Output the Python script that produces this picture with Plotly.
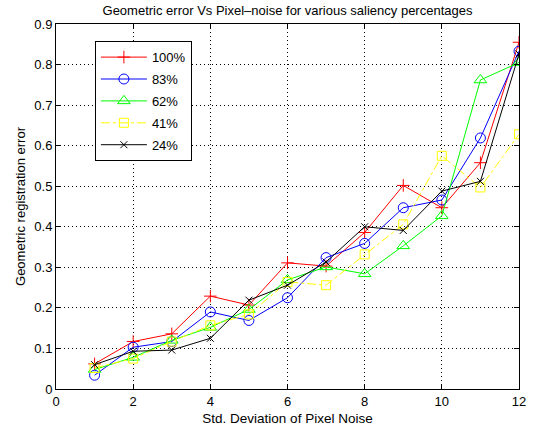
import plotly.graph_objects as go

# Std. deviation of pixel noise
noise = [1, 2, 3, 4, 5, 6, 7, 8, 9, 10, 11, 12]

# Geometric registration error for each saliency percentage
err_100 = [0.062, 0.117, 0.136, 0.229, 0.207, 0.311, 0.303, 0.386, 0.502, 0.447, 0.558, 0.855]
err_83 = [0.034, 0.103, 0.117, 0.190, 0.169, 0.225, 0.324, 0.359, 0.447, 0.466, 0.619, 0.833]
err_62 = [0.048, 0.078, 0.120, 0.152, 0.196, 0.269, 0.301, 0.284, 0.353, 0.427, 0.762, 0.805]
err_41 = [0.052, 0.075, 0.117, 0.157, 0.184, 0.264, 0.256, 0.332, 0.406, 0.575, 0.497, 0.628]
err_24 = [0.060, 0.093, 0.096, 0.125, 0.219, 0.256, 0.313, 0.400, 0.391, 0.488, 0.512, 0.826]

x_ticks = [0, 2, 4, 6, 8, 10, 12]
y_ticks = [0, 0.1, 0.2, 0.3, 0.4, 0.5, 0.6, 0.7, 0.8, 0.9]
y_tick_text = ["0", "0.1", "0.2", "0.3", "0.4", "0.5", "0.6", "0.7", "0.8", "0.9"]

series = [
    ("100%", err_100, "#ff0000", "cross-thin-open", "solid", 9),
    ("83%", err_83, "#0000ff", "circle-open", "solid", 10),
    ("62%", err_62, "#00ff00", "triangle-up-open", "solid", 11),
    ("41%", err_41, "#ffff00", "square-open", "dashdot", 9),
    ("24%", err_24, "#000000", "x-thin-open", "solid", 7),
]

fig = go.Figure()
for name, vals, color, symbol, dash, size in series:
    fig.add_trace(go.Scatter(
        x=noise, y=vals, name=name, mode="lines+markers", legendgroup=name,
        line=dict(color=color, width=1, dash=dash),
        marker=dict(symbol=symbol, size=size, color=color,
                    line=dict(color=color, width=1)),
    ))

font_family = "Liberation Sans, Arial, Helvetica, sans-serif"
axis_common = dict(
    showline=True, linecolor="black", linewidth=1, mirror="ticks",
    ticks="inside", ticklen=5, tickcolor="black", automargin=False,
    showgrid=True, gridcolor="black", griddash="1px,3px", gridwidth=1,
    zeroline=False, tickfont=dict(size=13, color="black", family=font_family),
)

fig.update_layout(
    width=535, height=428,
    margin=dict(l=56, r=16, t=24, b=39),
    paper_bgcolor="white", plot_bgcolor="white",
    font=dict(family=font_family, color="black", size=13),
    title=dict(text="Geometric error Vs Pixel\u2013noise for various saliency percentages",
               x=0.5, xanchor="center", xref="paper", y=0.975, yanchor="middle",
               font=dict(size=13)),
    xaxis=dict(range=[0, 12], tickvals=x_ticks,
               title=dict(text="Std. Deviation of Pixel Noise", standoff=5,
                          font=dict(size=13.5)),
               **axis_common),
    yaxis=dict(range=[0, 0.9], tickvals=y_ticks, ticktext=y_tick_text,
               title=dict(text="Geometric registration error", standoff=5,
                          font=dict(size=13)),
               **axis_common),
    legend=dict(x=0.084, y=0.953, xanchor="left", yanchor="top",
                bgcolor="white", bordercolor="black", borderwidth=1,
                font=dict(size=13, color="black"), itemwidth=46,
                tracegroupgap=2),
    showlegend=True,
)

fig.write_html("out.html")
